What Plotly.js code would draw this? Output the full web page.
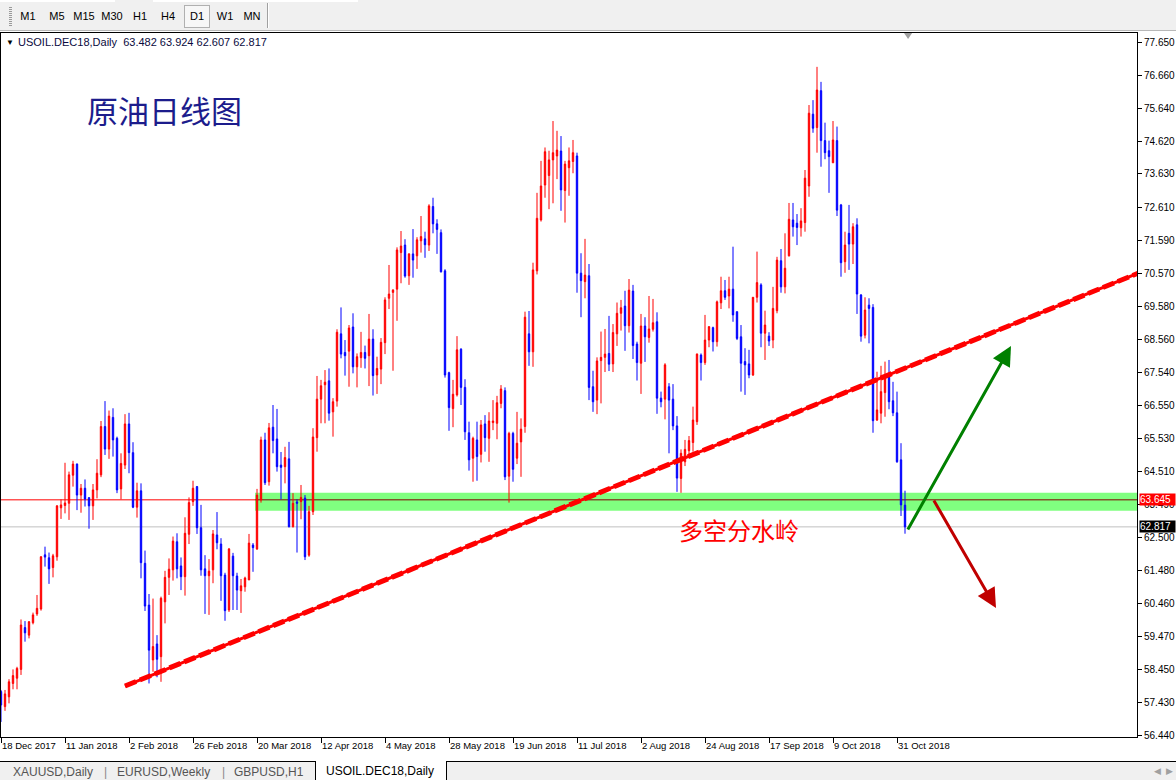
<!DOCTYPE html>
<html><head><meta charset="utf-8">
<script src="https://cdn.plot.ly/plotly-3.0.1.min.js"></script>
<style>
html,body{margin:0;padding:0;background:#fff;width:1176px;height:780px;overflow:hidden;font-family:"Liberation Sans",Arial,sans-serif;}
#chart{position:absolute;left:0;top:0;width:1176px;height:780px;}
#toolbar{position:absolute;left:0;top:0;width:1176px;height:30px;background:#f0f0f0;border-bottom:1px solid #b8b8b8;z-index:5;}
.strip{position:absolute;top:0;height:2px;background:#fff;}
.grip{position:absolute;left:9px;top:7px;width:3px;height:20px;background-image:linear-gradient(#9a9a9a 50%,transparent 50%);background-size:3px 2px;}
.btn{position:absolute;top:10px;font-size:11px;color:#000;transform:translateX(-50%);}
.pressed{position:absolute;left:184px;top:5px;width:24px;height:21px;border:1px solid #b0b0b0;background:#f7f7f7;}
.sep{position:absolute;left:267px;top:3px;width:1px;height:25px;background:#a0a0a0;border-right:1px solid #fff;}
#tabs{position:absolute;left:0;top:761px;width:1176px;height:19px;background:#f0f0f0;border-top:1px solid #000;z-index:5;}
.tab{position:absolute;top:3px;font-size:12px;color:#555;}
.tsep{position:absolute;top:3px;font-size:12px;color:#888;}
.active{position:absolute;left:315px;top:-1px;width:130px;height:19px;background:#fff;border:1px solid #000;border-top:none;font-size:12px;color:#000;}
.active span{position:absolute;left:10px;top:3px;}
.arr{position:absolute;top:4px;font-size:9px;color:#a0a0a0;}
</style></head>
<body>
<div id="chart"></div>
<div id="toolbar">
  <div class="strip" style="left:0;width:115px"></div>
  <div class="strip" style="left:153px;width:205px"></div>
  <div class="grip"></div>
  <div class="pressed"></div>
  <div class="btn" style="left:28px">M1</div>
  <div class="btn" style="left:57px">M5</div>
  <div class="btn" style="left:84px">M15</div>
  <div class="btn" style="left:112px">M30</div>
  <div class="btn" style="left:140px">H1</div>
  <div class="btn" style="left:168px">H4</div>
  <div class="btn" style="left:197px">D1</div>
  <div class="btn" style="left:225px">W1</div>
  <div class="btn" style="left:252px">MN</div>
  <div class="sep"></div>
</div>
<div id="tabs">
  <div class="tab" style="left:13px">XAUUSD,Daily</div>
  <div class="tsep" style="left:104px">|</div>
  <div class="tab" style="left:117px">EURUSD,Weekly</div>
  <div class="tsep" style="left:222px">|</div>
  <div class="tab" style="left:234px">GBPUSD,H1</div>
  <div class="active"><span>USOIL.DEC18,Daily</span></div>
  <div class="arr" style="left:1154px">&#9664;</div>
  <div class="arr" style="left:1166px">&#9654;</div>
</div>
<script>
// ---- data (daily candles, USOIL.DEC18) ----
const openP = [57.77,57.31,57.61,58.02,58.18,58.45,59.73,59.50,59.88,60.15,60.30,61.96,61.87,61.57,61.90,63.40,63.47,63.54,64.40,64.74,
63.79,64.00,63.71,63.46,63.95,64.41,65.89,65.20,66.17,65.53,63.98,64.71,65.97,65.09,63.42,63.92,61.70,60.42,58.74,59.23,
58.84,60.52,61.27,61.50,62.36,61.62,61.29,62.59,63.59,64.05,62.79,61.53,61.32,61.50,62.57,62.29,61.34,60.27,61.92,61.31,
60.86,60.98,61.19,62.26,62.14,63.64,65.48,64.20,65.87,65.51,64.71,64.66,64.90,62.82,63.58,63.59,63.70,61.95,63.28,65.55,
66.73,67.17,67.29,66.34,66.67,68.73,68.16,68.20,68.94,67.72,68.00,68.16,68.06,68.57,67.47,67.65,68.46,69.82,70.00,70.10,
71.22,71.45,70.51,71.18,71.12,71.58,71.64,71.45,72.63,72.10,71.83,70.66,67.54,66.44,66.86,68.26,67.09,65.70,64.92,65.48,
65.04,65.97,65.53,66.01,65.99,66.60,66.99,64.37,65.68,64.92,65.42,65.89,68.73,68.18,70.66,72.22,73.29,73.58,74.06,74.18,
74.33,73.12,73.82,74.01,74.18,70.59,70.33,70.51,67.11,66.70,67.91,68.01,68.13,67.81,68.73,69.36,69.58,68.98,70.04,68.42,
67.83,68.97,68.62,68.87,69.10,66.76,66.73,67.11,66.73,65.91,64.30,64.81,65.15,65.40,66.04,68.08,67.85,68.54,68.92,68.49,
69.68,70.05,69.89,70.10,69.41,68.64,67.88,67.81,67.47,69.85,70.23,68.75,68.66,68.54,69.44,70.97,70.17,71.12,72.22,72.12,
71.98,72.14,73.26,75.46,75.05,76.18,74.65,74.34,73.97,74.65,72.68,70.94,71.81,71.48,72.07,69.92,68.69,69.61,69.54,66.09,
66.30,66.93,67.49,66.68,66.31,64.87,63.482];
const highP = [57.82,57.82,58.15,58.45,58.53,59.98,59.93,59.93,60.19,60.73,61.92,62.21,62.03,61.99,63.48,63.66,64.78,64.51,64.84,64.76,
64.13,64.27,63.73,64.13,64.89,66.06,66.67,66.38,66.45,65.58,65.07,66.27,66.31,65.41,64.17,64.15,62.09,60.76,60.62,59.50,
60.68,61.47,61.85,62.52,62.62,61.88,63.11,63.72,64.23,64.07,63.49,61.95,61.83,62.72,63.27,62.47,61.41,62.17,62.02,61.41,
61.22,61.29,62.60,62.32,63.98,65.58,65.70,66.00,66.55,66.43,65.11,65.27,65.42,63.85,63.66,64.10,63.79,63.46,65.84,67.44,
67.32,67.62,67.67,66.76,68.87,69.54,68.54,69.00,69.36,68.13,68.79,68.37,69.34,68.87,68.03,68.60,69.85,70.84,70.10,71.38,
71.88,71.63,71.20,71.94,71.69,72.34,71.86,72.70,72.90,72.24,71.93,70.71,67.57,67.32,68.66,68.29,67.34,66.04,65.58,66.04,
66.09,66.24,66.33,66.70,66.83,67.16,67.09,65.73,65.73,66.34,66.14,69.41,69.43,70.91,73.05,74.03,74.44,74.34,75.25,74.95,
74.79,74.03,74.44,74.67,74.28,71.20,71.64,70.87,67.60,68.01,68.80,68.88,69.28,69.03,69.69,69.77,70.05,70.41,70.23,68.49,
69.34,69.24,69.89,69.80,69.39,66.96,67.83,67.22,67.19,66.21,65.19,65.48,65.60,66.50,68.13,68.13,69.31,68.97,68.95,69.75,
70.48,70.38,70.48,71.40,69.41,69.00,68.29,68.24,69.85,71.25,70.28,69.44,68.78,70.17,71.09,71.33,71.81,72.74,72.74,72.40,
72.58,73.75,75.74,75.89,76.91,76.45,75.20,74.65,75.25,75.08,72.71,71.86,72.68,72.12,72.27,69.95,69.85,69.82,69.64,67.57,
67.75,67.88,67.93,67.26,66.96,65.38,63.924];
const lowP = [56.84,57.18,57.41,57.84,57.84,58.28,59.30,59.40,59.83,60.09,60.25,61.60,61.07,61.27,61.78,63.06,63.23,63.03,64.05,63.33,
63.25,63.44,62.76,63.03,63.69,64.34,65.02,64.90,64.97,63.85,63.66,64.59,64.46,63.39,63.10,61.24,60.24,58.02,58.38,58.21,
58.07,59.86,60.73,61.17,61.24,60.88,60.71,62.29,63.46,62.60,61.32,60.15,60.12,61.09,62.13,60.55,59.94,60.21,60.27,60.27,
60.18,60.83,61.19,61.44,62.11,63.56,64.10,64.08,65.07,64.51,63.66,64.15,62.80,62.80,62.03,63.05,61.80,61.90,63.18,65.12,
65.99,65.99,66.07,65.58,66.50,67.98,67.45,67.11,67.52,67.09,67.69,67.67,67.13,66.84,66.89,67.19,68.11,69.49,67.60,69.13,
70.28,70.45,70.23,70.45,70.72,71.22,71.06,71.27,71.81,71.18,70.61,67.39,65.76,65.87,66.81,66.55,65.48,64.54,64.20,64.23,
64.79,65.12,64.81,65.78,65.50,66.45,64.25,63.56,64.20,64.74,64.35,65.70,67.75,67.72,70.55,72.17,72.90,72.55,72.73,73.47,
72.50,72.14,72.96,73.65,69.99,69.24,69.82,66.70,66.34,66.27,66.60,67.56,67.59,67.56,68.36,68.83,68.21,68.77,67.96,67.30,
66.89,67.87,68.46,68.80,66.28,66.48,66.11,65.07,65.78,63.89,63.86,64.68,65.02,65.12,65.94,67.30,67.78,68.32,68.19,68.34,
69.49,69.77,69.51,69.10,68.54,66.96,66.86,67.37,67.44,69.69,68.32,67.93,68.36,68.29,69.36,69.99,69.97,71.10,71.71,71.45,
71.71,71.86,72.93,74.89,74.28,73.85,74.08,73.05,73.97,72.34,70.48,70.60,70.69,70.87,69.34,68.49,68.59,68.44,65.70,66.06,
65.99,66.19,66.42,66.21,64.78,63.15,62.607];
const closeP = [57.36,57.70,58.07,58.26,58.48,59.81,59.57,59.91,60.12,60.32,61.90,61.89,61.53,61.93,63.46,63.49,63.55,64.41,64.74,63.79,
64.00,63.67,63.46,63.95,64.46,65.89,65.20,66.21,65.48,63.95,64.76,65.97,65.09,63.42,63.92,61.72,60.39,59.04,59.15,58.76,
60.63,61.27,61.52,62.38,61.53,61.29,62.62,63.56,64.00,62.79,61.50,61.32,61.46,62.60,62.33,61.32,60.25,62.14,61.32,60.88,
61.01,61.25,62.32,62.18,63.79,65.48,64.17,65.85,65.46,64.66,64.64,64.94,62.82,63.54,63.54,63.72,61.90,63.28,65.57,66.73,
67.14,67.25,66.30,66.65,68.78,68.11,68.06,68.91,67.72,68.03,68.16,67.98,68.57,67.45,67.67,68.47,69.77,69.95,70.07,71.30,
71.42,70.50,71.18,70.99,71.61,71.71,71.46,72.65,72.10,71.93,70.63,67.47,66.47,66.88,68.24,67.09,65.73,64.87,65.53,64.97,
65.94,65.55,66.06,66.06,66.62,67.04,64.35,65.68,64.58,65.38,65.81,69.24,68.18,70.69,72.27,73.26,74.31,74.06,74.28,74.36,
73.14,73.93,74.03,74.28,70.59,70.36,70.53,67.09,66.65,67.90,68.01,68.11,67.80,68.77,69.36,69.53,68.98,70.07,68.37,67.85,
68.97,68.64,68.88,69.07,66.76,66.65,67.78,66.70,65.91,64.31,65.07,65.19,65.46,66.09,68.11,67.85,68.54,68.95,68.49,69.71,
70.05,69.85,70.10,69.31,68.59,67.83,67.78,67.47,69.85,70.30,68.75,69.00,68.51,69.51,70.99,70.17,70.74,72.24,72.01,71.99,
72.19,73.50,75.49,75.03,76.20,74.65,74.28,74.16,74.67,72.52,70.91,71.45,71.48,72.01,69.95,68.66,69.46,69.51,66.07,66.40,
66.96,67.42,66.65,66.31,64.81,63.49,62.817];

const dateLabels = ["18 Dec 2017","11 Jan 2018","2 Feb 2018","26 Feb 2018","20 Mar 2018","12 Apr 2018","4 May 2018",
  "28 May 2018","19 Jun 2018","11 Jul 2018","2 Aug 2018","24 Aug 2018","17 Sep 2018","9 Oct 2018","31 Oct 2018"];
const barsPerDateLabel = 16;
const priceTicks = [77.650,76.660,75.640,74.620,73.630,72.610,71.590,70.570,69.580,68.560,67.540,66.550,
  65.530,64.510,63.490,62.500,61.480,60.460,59.470,58.450,57.430,56.440];

// drawing objects on the chart (bar index, price)
const levelPrice = 63.645;                    // horizontal line
const zoneBand = {fromBar:63.5, top:63.86, bottom:63.31};   // green zone
const trendPts = {bar0:31, price0:57.94, bar1:284.5, price1:70.60};
const upArrow = {bar0:226.5, price0:62.69, bar1:252.5, price1:68.36};
const downArrow = {bar0:233, price0:63.67, bar1:248.75, price1:60.33};
const titleCN = {text:"原油日线图", bar:21, price:75.59};
const zoneLabel = {text:"多空分水岭", bar:169, price:62.75};

// -----------------------------------------
const FONT = '"Liberation Sans", Arial, sans-serif';
const n = closeP.length;
const idx = closeP.map((_, i) => i);
const lastClose = closeP[n - 1];
const xMax = 284;

const candle = {
  type: 'candlestick', x: idx, open: openP, high: highP, low: lowP, close: closeP,
  increasing: {line: {color: '#ff0000', width: 1}, fillcolor: '#ff0000'},
  decreasing: {line: {color: '#0000ff', width: 1}, fillcolor: '#0000ff'},
  whiskerwidth: 0, hoverinfo: 'skip', showlegend: false
};

const shapes = [
  {type:'rect', xref:'x', yref:'y', x0:zoneBand.fromBar, x1:xMax + 2, y0:zoneBand.bottom, y1:zoneBand.top,
   fillcolor:'#80ff80', line:{width:0}, layer:'below'},
  {type:'line', xref:'x', yref:'y', x0:-1, x1:zoneBand.fromBar, y0:levelPrice, y1:levelPrice,
   line:{color:'#ff0000', width:1}, layer:'below'},
  {type:'line', xref:'x', yref:'y', x0:zoneBand.fromBar, x1:xMax + 2, y0:levelPrice, y1:levelPrice,
   line:{color:'#800000', width:1}, layer:'below'},
  {type:'line', xref:'x', yref:'y', x0:-1, x1:xMax + 2, y0:lastClose, y1:lastClose,
   line:{color:'#c0c0c0', width:1}, layer:'below'},
  // trend line: solid core + dashed thick overlay
  {type:'line', xref:'x', yref:'y', x0:trendPts.bar0, y0:trendPts.price0, x1:trendPts.bar1, y1:trendPts.price1,
   line:{color:'#ff0000', width:3}, layer:'above'},
  {type:'line', xref:'x', yref:'y', x0:trendPts.bar0, y0:trendPts.price0, x1:trendPts.bar1, y1:trendPts.price1,
   line:{color:'#ff0000', width:5, dash:'12px,4px'}, layer:'above'},
  // chart-shift marker
  {type:'path', xref:'paper', yref:'paper', path:'M 0.7949 1 L 0.8020 1 L 0.7985 0.9915 Z',
   fillcolor:'#a0a0a0', line:{width:0}}
];

const annotations = [
  {xref:'paper', yref:'paper', x:0, y:1, xanchor:'left', yanchor:'top', xshift:3, yshift:-3, showarrow:false,
   text:'▼', font:{family:FONT, size:8, color:'#000'}},
  {xref:'paper', yref:'paper', x:0, y:1, xanchor:'left', yanchor:'top', xshift:15, yshift:-1, showarrow:false,
   text:'USOIL.DEC18,Daily\u00a0\u00a0' + [openP[n-1], highP[n-1], lowP[n-1], closeP[n-1]].map(v => v.toFixed(3)).join(' '),
   font:{family:FONT, size:11, color:'#0a0a40'}},
  {xref:'x', yref:'y', x:titleCN.bar, y:titleCN.price, xanchor:'left', yanchor:'middle', showarrow:false,
   text:titleCN.text, font:{family:'"Noto Sans CJK SC", sans-serif', size:31, color:'#1c1c8c'}},
  {xref:'x', yref:'y', x:zoneLabel.bar, y:zoneLabel.price, xanchor:'left', yanchor:'middle', showarrow:false,
   text:zoneLabel.text, font:{family:'"Noto Sans CJK SC", sans-serif', size:24, color:'#ff0000'}},
  {xref:'x', yref:'y', x:upArrow.bar1, y:upArrow.price1, axref:'x', ayref:'y', ax:upArrow.bar0, ay:upArrow.price0,
   showarrow:true, arrowhead:2, arrowsize:1.3, arrowwidth:3, arrowcolor:'#008000', text:''},
  {xref:'x', yref:'y', x:downArrow.bar1, y:downArrow.price1, axref:'x', ayref:'y', ax:downArrow.bar0, ay:downArrow.price0,
   showarrow:true, arrowhead:2, arrowsize:1.3, arrowwidth:3, arrowcolor:'#c00000', text:''},
  {xref:'paper', yref:'y', x:1, y:levelPrice, xanchor:'left', yanchor:'middle', xshift:2, showarrow:false,
   text:levelPrice.toFixed(3), bgcolor:'#ff0000', width:35, align:'left', borderpad:0,
   font:{family:FONT, size:10, color:'#fff'}},
  {xref:'paper', yref:'y', x:1, y:lastClose, xanchor:'left', yanchor:'middle', xshift:2, showarrow:false,
   text:lastClose.toFixed(3), bgcolor:'#000000', width:35, align:'left', borderpad:0,
   font:{family:FONT, size:10, color:'#fff'}}
];

const layout = {
  width:1176, height:780,
  margin:{l:1, r:39, t:33, b:43, pad:0},
  paper_bgcolor:'#ffffff', plot_bgcolor:'#ffffff',
  showlegend:false, hovermode:false, dragmode:false, boxgap:0.5,
  xaxis:{range:[0, xMax], showgrid:false, zeroline:false, showline:true, mirror:true, linecolor:'#000', linewidth:1,
    ticks:'outside', ticklen:5, tickcolor:'#000', tickwidth:1, tickangle:0, ticklabeloverflow:'allow',
    tickvals:dateLabels.map((_, k) => k * barsPerDateLabel), ticktext:dateLabels,
    ticklabelposition:'outside right', tickfont:{family:FONT, size:9.5, color:'#000'},
    rangeslider:{visible:false}, fixedrange:true},
  yaxis:{range:[56.379, 77.947], side:'right', showgrid:false, zeroline:false, showline:true, mirror:true,
    linecolor:'#000', linewidth:1, ticks:'outside', ticklen:4, tickcolor:'#000',
    tickvals:priceTicks, ticktext:priceTicks.map(v => v.toFixed(3)),
    tickfont:{family:FONT, size:10, color:'#000'}, fixedrange:true},
  shapes:shapes, annotations:annotations
};

Plotly.newPlot('chart', [candle], layout, {displayModeBar:false, staticPlot:true});
</script>
</body></html>
